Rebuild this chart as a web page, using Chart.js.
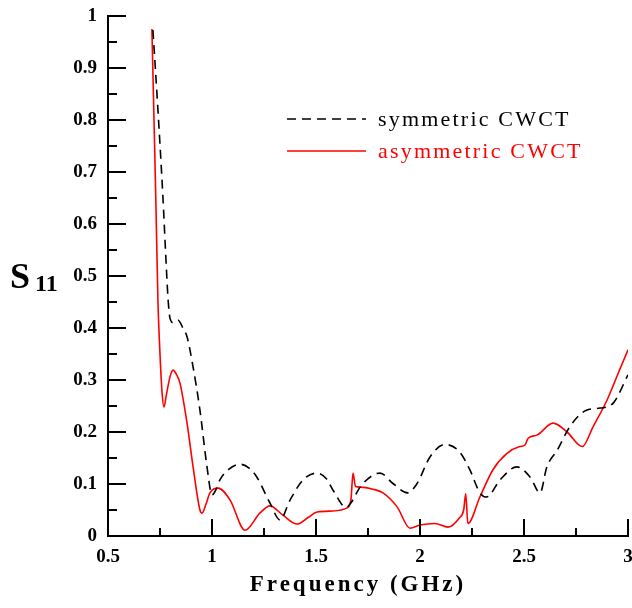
<!DOCTYPE html>
<html>
<head>
<meta charset="utf-8">
<script src="https://cdn.jsdelivr.net/npm/chart.js@4"></script>
<style>
  html, body { margin: 0; padding: 0; background: #fff; }
  #wrap { width: 632px; height: 608px; }
</style>
</head>
<body>
<div id="wrap"><canvas id="s11Chart" width="632" height="608"></canvas></div>
<script>
// ===== Data =====
const symFreq = [0.716, 0.74, 0.764, 0.78, 0.789, 0.798, 0.815, 0.837, 0.86, 0.88, 0.909, 0.942, 0.976, 1.0, 1.02, 1.038, 1.08, 1.135, 1.18, 1.216, 1.279, 1.327, 1.375, 1.438, 1.505, 1.55, 1.582, 1.645, 1.67, 1.712, 1.774, 1.808, 1.87, 1.94, 1.986, 2.048, 2.12, 2.19, 2.24, 2.288, 2.32, 2.385, 2.466, 2.53, 2.577, 2.61, 2.66, 2.72, 2.80, 2.866, 2.93, 3.0];
const symS11 = [0.973, 0.82, 0.652, 0.52, 0.454, 0.419, 0.41, 0.415, 0.40, 0.383, 0.325, 0.242, 0.133, 0.079, 0.09, 0.108, 0.128, 0.138, 0.13, 0.113, 0.063, 0.031, 0.069, 0.108, 0.121, 0.11, 0.088, 0.055, 0.065, 0.094, 0.117, 0.121, 0.101, 0.083, 0.101, 0.152, 0.176, 0.162, 0.127, 0.083, 0.075, 0.108, 0.133, 0.113, 0.083, 0.133, 0.165, 0.21, 0.242, 0.246, 0.256, 0.31];

const asymFreq = [0.711, 0.72, 0.73, 0.74, 0.75, 0.76, 0.769, 0.78, 0.798, 0.813, 0.83, 0.846, 0.88, 0.909, 0.942, 0.952, 0.97, 0.99, 1.03, 1.087, 1.159, 1.23, 1.279, 1.341, 1.409, 1.46, 1.505, 1.582, 1.649, 1.668, 1.678, 1.69, 1.712, 1.774, 1.822, 1.89, 1.952, 2.0, 2.072, 2.135, 2.19, 2.21, 2.22, 2.23, 2.288, 2.35, 2.418, 2.48, 2.505, 2.52, 2.562, 2.64, 2.707, 2.78, 2.832, 2.9, 2.95, 3.0];
const asymS11 = [0.975, 0.82, 0.646, 0.454, 0.35, 0.275, 0.248, 0.27, 0.306, 0.319, 0.31, 0.294, 0.217, 0.133, 0.05, 0.044, 0.06, 0.083, 0.092, 0.069, 0.011, 0.044, 0.058, 0.04, 0.023, 0.035, 0.046, 0.048, 0.054, 0.07, 0.121, 0.095, 0.094, 0.09, 0.083, 0.056, 0.015, 0.021, 0.024, 0.017, 0.035, 0.05, 0.081, 0.024, 0.075, 0.127, 0.159, 0.172, 0.175, 0.188, 0.194, 0.217, 0.2, 0.172, 0.21, 0.262, 0.31, 0.358];

const seriesNames = ['symmetric CWCT', 'asymmetric CWCT'];
const seriesColors = ['#000000', '#ff0000'];
const xTitle = 'Frequency (GHz)';

const toPoints = (xs, ys) => xs.map((x, i) => ({ x: x, y: ys[i] }));
const serif = '"Liberation Serif", "Times New Roman", serif';
const fmt = v => String(Math.round(v * 100) / 100);

// ===== Inward ticks, legend and axis titles =====
const decorations = {
    id: 'decorations',
    afterDraw(chart) {
        const c = chart.ctx;
        const xs = chart.scales.x, ys = chart.scales.y;
        const area = chart.chartArea;
        c.save();
        c.strokeStyle = '#000';
        c.lineWidth = 2;
        for (let i = 0; i <= 20; i++) {
            const y = ys.getPixelForValue(i * 0.05);
            const len = i % 2 === 0 ? 18 : 9;
            c.beginPath(); c.moveTo(area.left, y); c.lineTo(area.left + len, y); c.stroke();
        }
        for (let i = 0; i <= 10; i++) {
            const x = xs.getPixelForValue(0.5 + i * 0.25);
            const len = i % 2 === 0 ? 17 : 8;
            c.beginPath(); c.moveTo(x, area.bottom); c.lineTo(x, area.bottom - len); c.stroke();
        }

        // legend
        const rows = [{ y: 119, dash: [9, 6] }, { y: 151, dash: [] }];
        rows.forEach((r, i) => {
            c.strokeStyle = seriesColors[i];
            c.lineWidth = 1.5;
            c.setLineDash(r.dash);
            c.beginPath(); c.moveTo(287, r.y); c.lineTo(366, r.y); c.stroke();
            c.setLineDash([]);
            c.fillStyle = seriesColors[i];
            c.font = '22px ' + serif;
            c.letterSpacing = '2.2px';
            c.textAlign = 'left';
            c.textBaseline = 'middle';
            c.fillText(seriesNames[i], 378, r.y + 1);
        });

        // x title
        c.fillStyle = '#000';
        c.font = 'bold 23px ' + serif;
        c.letterSpacing = '3px';
        c.textAlign = 'center';
        c.textBaseline = 'middle';
        c.fillText(xTitle, 358, 585);

        // y title S11
        c.letterSpacing = '0px';
        c.textAlign = 'left';
        c.textBaseline = 'alphabetic';
        c.font = 'bold 36px ' + serif;
        c.fillText('S', 10, 288);
        c.font = 'bold 24px ' + serif;
        c.fillText('11', 35, 291);
        c.restore();
    }
};

const ctx = document.getElementById('s11Chart').getContext('2d');
const chart = new Chart(ctx, {
    type: 'line',
    data: {
        datasets: [{
            label: seriesNames[0],
            data: toPoints(symFreq, symS11),
            borderColor: seriesColors[0],
            borderWidth: 1.6,
            borderDash: [9, 6],
            pointRadius: 0,
            cubicInterpolationMode: 'monotone',
            fill: false
        }, {
            label: seriesNames[1],
            data: toPoints(asymFreq, asymS11),
            borderColor: seriesColors[1],
            borderWidth: 1.6,
            pointRadius: 0,
            cubicInterpolationMode: 'monotone',
            fill: false
        }]
    },
    options: {
        responsive: false,
        animation: false,
        layout: { padding: { left: 8, right: 4, top: 16, bottom: 0 } },
        plugins: { legend: { display: false }, tooltip: { enabled: false } },
        scales: {
            x: {
                type: 'linear', min: 0.5, max: 3,
                grid: { display: false, drawTicks: false },
                border: { display: true, color: '#000', width: 2 },
                ticks: {
                    stepSize: 0.5, padding: 10, color: '#000', callback: fmt,
                    font: { family: serif, size: 19, weight: 'bold' }
                },
                afterFit: s => { s.height = 72; s.paddingLeft = 0; s.paddingRight = 0; }
            },
            y: {
                min: 0, max: 1,
                grid: { display: false, drawTicks: false },
                border: { display: true, color: '#000', width: 2 },
                ticks: {
                    stepSize: 0.1, padding: 11, color: '#000', callback: fmt,
                    font: { family: serif, size: 19, weight: 'bold' }
                },
                afterFit: s => { s.width = 100; s.paddingTop = 0; s.paddingBottom = 0; }
            }
        }
    },
    plugins: [decorations]
});
</script>
</body>
</html>
